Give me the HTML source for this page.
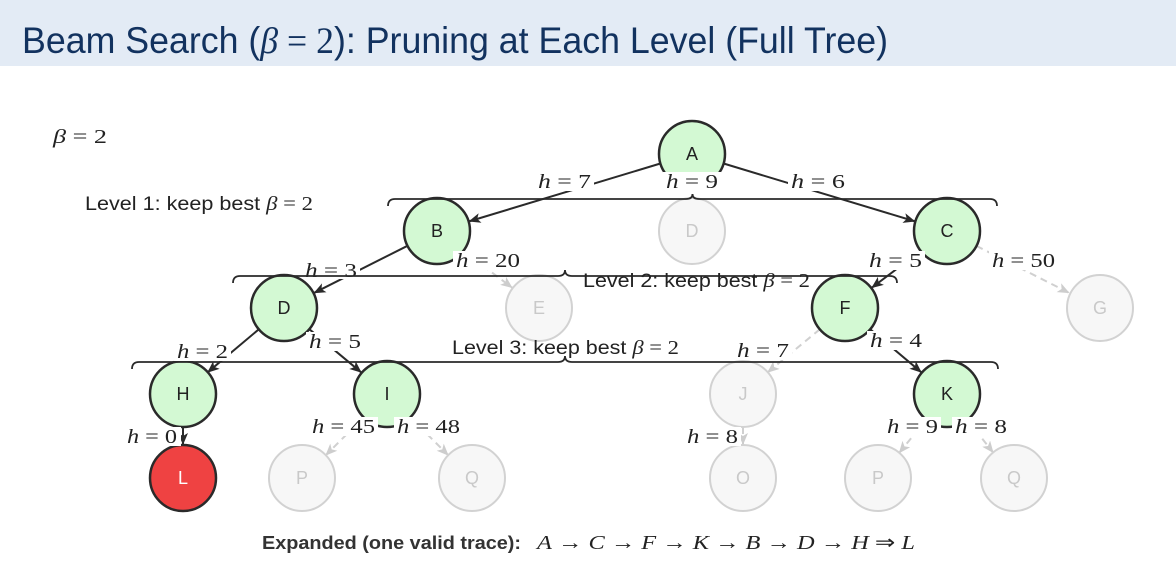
<!DOCTYPE html>
<html>
<head>
<meta charset="utf-8">
<style>
  html,body{margin:0;padding:0;background:#fff;}
  svg{display:block;}
  .m{font-family:"Liberation Serif",serif;font-size:20px;fill:#222;}
  .nl{font-family:"Liberation Sans",sans-serif;font-size:18px;text-anchor:middle;}
  .lv{font-family:"Liberation Sans",sans-serif;font-size:19px;fill:#222;}
</style>
</head>
<body>
<svg width="1176" height="580" viewBox="0 0 1176 580" xmlns="http://www.w3.org/2000/svg">
  <defs>
    <marker id="ad" markerUnits="userSpaceOnUse" markerWidth="14" markerHeight="12" refX="12" refY="5" orient="auto">
      <path d="M0,0 L12,5 L0,10 L3,5 Z" fill="#2a2a2a"/>
    </marker>
    <marker id="ag" markerUnits="userSpaceOnUse" markerWidth="14" markerHeight="12" refX="12" refY="5" orient="auto">
      <path d="M0,0 L12,5 L0,10 L3,5 Z" fill="#cdcdcd"/>
    </marker>
  </defs>

  <!-- title band -->
  <rect x="0" y="0" width="1176" height="66" fill="#e3ebf5"/>
  <text x="22" y="53" font-family="Liberation Sans, sans-serif" font-size="37" fill="#12325f" textLength="866" lengthAdjust="spacingAndGlyphs">Beam Search (<tspan font-family="Liberation Serif, serif" font-style="italic">β</tspan><tspan font-family="Liberation Serif, serif"> = 2</tspan>): Pruning at Each Level (Full Tree)</text>

  <!-- beta label -->
  <text x="53" y="143" class="m" textLength="54" lengthAdjust="spacingAndGlyphs"><tspan font-style="italic">β</tspan> = 2</text>

  <!-- solid edges -->
  <g stroke="#2a2a2a" stroke-width="2" fill="none" marker-end="url(#ad)">
    <line x1="660.4" y1="163.5" x2="468.6" y2="221.5"/>
    <line x1="723.6" y1="163.5" x2="915.4" y2="221.5"/>
    <line x1="407.5" y1="245.8" x2="313.5" y2="293.2"/>
    <line x1="920.7" y1="250.9" x2="871.3" y2="288.1"/>
    <line x1="258.8" y1="329.3" x2="207.2" y2="372.7"/>
    <line x1="309.3" y1="329.2" x2="361.7" y2="372.8"/>
    <line x1="870.2" y1="329.3" x2="921.8" y2="372.7"/>
    <line x1="183" y1="427" x2="183" y2="445"/>
  </g>
  <!-- faded dashed edges -->
  <g stroke="#d0d0d0" stroke-width="2" fill="none" stroke-dasharray="7,5" marker-end="url(#ag)">
    <line x1="463.3" y1="250.9" x2="512.7" y2="288.1"/>
    <line x1="976.4" y1="245.9" x2="1069.6" y2="293.1"/>
    <line x1="819.8" y1="329.3" x2="767.2" y2="372.7"/>
    <line x1="363.7" y1="417.3" x2="325.3" y2="455.7"/>
    <line x1="410.3" y1="417.3" x2="448.7" y2="455.7"/>
    <line x1="743" y1="427" x2="743" y2="445"/>
    <line x1="926.2" y1="419.6" x2="898.8" y2="453.4"/>
    <line x1="967.4" y1="419.9" x2="993.6" y2="453.1"/>
  </g>

  <!-- nodes -->
  <g stroke-width="2.5">
    <circle cx="692" cy="154" r="33" fill="#d3f9d3" stroke="#2a2a2a"/>
    <circle cx="437" cy="231" r="33" fill="#d3f9d3" stroke="#2a2a2a"/>
    <circle cx="692" cy="231" r="33" fill="#f7f7f7" stroke="#d2d2d2" stroke-width="2"/>
    <circle cx="947" cy="231" r="33" fill="#d3f9d3" stroke="#2a2a2a"/>
    <circle cx="284" cy="308" r="33" fill="#d3f9d3" stroke="#2a2a2a"/>
    <circle cx="539" cy="308" r="33" fill="#f7f7f7" stroke="#d2d2d2" stroke-width="2"/>
    <circle cx="845" cy="308" r="33" fill="#d3f9d3" stroke="#2a2a2a"/>
    <circle cx="1100" cy="308" r="33" fill="#f7f7f7" stroke="#d2d2d2" stroke-width="2"/>
    <circle cx="183" cy="394" r="33" fill="#d3f9d3" stroke="#2a2a2a"/>
    <circle cx="387" cy="394" r="33" fill="#d3f9d3" stroke="#2a2a2a"/>
    <circle cx="743" cy="394" r="33" fill="#f7f7f7" stroke="#d2d2d2" stroke-width="2"/>
    <circle cx="947" cy="394" r="33" fill="#d3f9d3" stroke="#2a2a2a"/>
    <circle cx="183" cy="478" r="33" fill="#ef4242" stroke="#2a2a2a"/>
    <circle cx="302" cy="478" r="33" fill="#f7f7f7" stroke="#d2d2d2" stroke-width="2"/>
    <circle cx="472" cy="478" r="33" fill="#f7f7f7" stroke="#d2d2d2" stroke-width="2"/>
    <circle cx="743" cy="478" r="33" fill="#f7f7f7" stroke="#d2d2d2" stroke-width="2"/>
    <circle cx="878" cy="478" r="33" fill="#f7f7f7" stroke="#d2d2d2" stroke-width="2"/>
    <circle cx="1014" cy="478" r="33" fill="#f7f7f7" stroke="#d2d2d2" stroke-width="2"/>
  </g>
  <g class="nl">
    <text x="692" y="160" fill="#222">A</text>
    <text x="437" y="237" fill="#222">B</text>
    <text x="692" y="237" fill="#c9c9c9">D</text>
    <text x="947" y="237" fill="#222">C</text>
    <text x="284" y="314" fill="#222">D</text>
    <text x="539" y="314" fill="#c9c9c9">E</text>
    <text x="845" y="314" fill="#222">F</text>
    <text x="1100" y="314" fill="#c9c9c9">G</text>
    <text x="183" y="400" fill="#222">H</text>
    <text x="387" y="400" fill="#222">I</text>
    <text x="743" y="400" fill="#c9c9c9">J</text>
    <text x="947" y="400" fill="#222">K</text>
    <text x="183" y="484" fill="#fff">L</text>
    <text x="302" y="484" fill="#c9c9c9">P</text>
    <text x="472" y="484" fill="#c9c9c9">Q</text>
    <text x="743" y="484" fill="#c9c9c9">O</text>
    <text x="878" y="484" fill="#c9c9c9">P</text>
    <text x="1014" y="484" fill="#c9c9c9">Q</text>
  </g>

  <!-- edge labels -->
  <g fill="#fff">
    <rect x="535" y="172" width="59" height="19"/>
    <rect x="788" y="172" width="60" height="19"/>
    <rect x="663" y="172" width="58" height="19"/>
    <rect x="302" y="262" width="58" height="17"/>
    <rect x="453" y="251" width="70" height="19"/>
    <rect x="866" y="251" width="59" height="19"/>
    <rect x="989" y="251" width="69" height="19"/>
    <rect x="174" y="342" width="57" height="19"/>
    <rect x="306" y="332" width="58" height="19"/>
    <rect x="734" y="341" width="58" height="19"/>
    <rect x="867" y="331" width="58" height="19"/>
    <rect x="124" y="427" width="57" height="19"/>
    <rect x="309" y="417" width="69" height="19"/>
    <rect x="394" y="417" width="69" height="19"/>
    <rect x="684" y="427" width="57" height="19"/>
    <rect x="884" y="417" width="57" height="19"/>
    <rect x="952" y="417" width="58" height="19"/>
  </g>
  <g class="m">
    <text x="538" y="188" textLength="53" lengthAdjust="spacingAndGlyphs"><tspan font-style="italic">h</tspan> = 7</text>
    <text x="791" y="188" textLength="54" lengthAdjust="spacingAndGlyphs"><tspan font-style="italic">h</tspan> = 6</text>
    <text x="666" y="188" textLength="52" lengthAdjust="spacingAndGlyphs"><tspan font-style="italic">h</tspan> = 9</text>
    <text x="305" y="277" textLength="52" lengthAdjust="spacingAndGlyphs"><tspan font-style="italic">h</tspan> = 3</text>
    <text x="456" y="267" textLength="64" lengthAdjust="spacingAndGlyphs"><tspan font-style="italic">h</tspan> = 20</text>
    <text x="869" y="267" textLength="53" lengthAdjust="spacingAndGlyphs"><tspan font-style="italic">h</tspan> = 5</text>
    <text x="992" y="267" textLength="63" lengthAdjust="spacingAndGlyphs"><tspan font-style="italic">h</tspan> = 50</text>
    <text x="177" y="358" textLength="51" lengthAdjust="spacingAndGlyphs"><tspan font-style="italic">h</tspan> = 2</text>
    <text x="309" y="348" textLength="52" lengthAdjust="spacingAndGlyphs"><tspan font-style="italic">h</tspan> = 5</text>
    <text x="737" y="357" textLength="52" lengthAdjust="spacingAndGlyphs"><tspan font-style="italic">h</tspan> = 7</text>
    <text x="870" y="347" textLength="52" lengthAdjust="spacingAndGlyphs"><tspan font-style="italic">h</tspan> = 4</text>
    <text x="127" y="443" textLength="50" lengthAdjust="spacingAndGlyphs"><tspan font-style="italic">h</tspan> = 0</text>
    <text x="312" y="433" textLength="63" lengthAdjust="spacingAndGlyphs"><tspan font-style="italic">h</tspan> = 45</text>
    <text x="397" y="433" textLength="63" lengthAdjust="spacingAndGlyphs"><tspan font-style="italic">h</tspan> = 48</text>
    <text x="687" y="443" textLength="51" lengthAdjust="spacingAndGlyphs"><tspan font-style="italic">h</tspan> = 8</text>
    <text x="887" y="433" textLength="51" lengthAdjust="spacingAndGlyphs"><tspan font-style="italic">h</tspan> = 9</text>
    <text x="955" y="433" textLength="52" lengthAdjust="spacingAndGlyphs"><tspan font-style="italic">h</tspan> = 8</text>
  </g>

  <!-- braces -->
  <g stroke="#2a2a2a" stroke-width="1.8" fill="none">
    <path d="M388,206 Q388,199 395,199 L686,199 Q692.5,199 692.5,194 Q692.5,199 699,199 L990,199 Q997,199 997,206"/>
    <path d="M233,283 Q233,276 240,276 L558,276 Q565,276 565,270 Q565,276 572,276 L890,276 Q897,276 897,283"/>
    <path d="M132,369 Q132,362 139,362 L558,362 Q565,362 565,356 Q565,362 572,362 L991,362 Q998,362 998,369"/>
  </g>

  <!-- level texts -->
  <text x="85" y="210" class="lv" textLength="228" lengthAdjust="spacingAndGlyphs">Level 1: keep best <tspan font-family="Liberation Serif, serif" font-style="italic" font-size="20">β</tspan><tspan font-family="Liberation Serif, serif" font-size="20"> = 2</tspan></text>
  <text x="583" y="287" class="lv" textLength="227" lengthAdjust="spacingAndGlyphs">Level 2: keep best <tspan font-family="Liberation Serif, serif" font-style="italic" font-size="20">β</tspan><tspan font-family="Liberation Serif, serif" font-size="20"> = 2</tspan></text>
  <text x="452" y="354" class="lv" textLength="227" lengthAdjust="spacingAndGlyphs">Level 3: keep best <tspan font-family="Liberation Serif, serif" font-style="italic" font-size="20">β</tspan><tspan font-family="Liberation Serif, serif" font-size="20"> = 2</tspan></text>

  <!-- bottom trace -->
  <text x="262" y="549" font-family="Liberation Sans, sans-serif" font-weight="bold" font-size="18.5" fill="#333" textLength="259" lengthAdjust="spacingAndGlyphs">Expanded (one valid trace):</text>
  <text x="537" y="549" font-family="Liberation Serif, serif" font-size="20" fill="#222" textLength="378" lengthAdjust="spacingAndGlyphs"><tspan font-style="italic">A</tspan> → <tspan font-style="italic">C</tspan> → <tspan font-style="italic">F</tspan> → <tspan font-style="italic">K</tspan> → <tspan font-style="italic">B</tspan> → <tspan font-style="italic">D</tspan> → <tspan font-style="italic">H</tspan> ⇒ <tspan font-style="italic">L</tspan></text>
</svg>
</body>
</html>
